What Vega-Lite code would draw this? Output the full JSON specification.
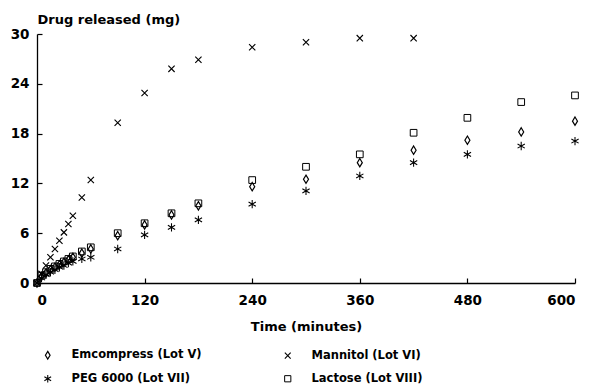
{
  "$schema": "https://vega.github.io/schema/vega-lite/v6.json",
  "width": 538,
  "height": 249,
  "autosize": {"type": "none"},
  "padding": {"left": 37, "top": 34, "right": 15, "bottom": 107},
  "background": "white",
  "config": {
    "view": {"stroke": null},
    "font": "DejaVu Sans",
    "axis": {"grid": false, "domainColor": "black", "tickColor": "black", "labelColor": "black", "titleColor": "black", "labelFont": "DejaVu Sans", "labelFontWeight": "bold", "labelFontSize": 13.5, "titleFont": "DejaVu Sans", "titleFontWeight": "bold", "titleFontSize": 13, "domainWidth": 1.3, "tickWidth": 1.2},
    "legend": {"labelFont": "DejaVu Sans", "labelFontWeight": "bold", "labelFontSize": 11.5, "labelColor": "black"}
  },
  "data": {
    "values": [
      {"series": "Emcompress (Lot V)", "t": 0, "mg": 0},
      {"series": "Emcompress (Lot V)", "t": 5, "mg": 0.8},
      {"series": "Emcompress (Lot V)", "t": 10, "mg": 1.2},
      {"series": "Emcompress (Lot V)", "t": 15, "mg": 1.6},
      {"series": "Emcompress (Lot V)", "t": 20, "mg": 1.9},
      {"series": "Emcompress (Lot V)", "t": 25, "mg": 2.2},
      {"series": "Emcompress (Lot V)", "t": 30, "mg": 2.5},
      {"series": "Emcompress (Lot V)", "t": 35, "mg": 2.8},
      {"series": "Emcompress (Lot V)", "t": 40, "mg": 3.1},
      {"series": "Emcompress (Lot V)", "t": 50, "mg": 3.6},
      {"series": "Emcompress (Lot V)", "t": 60, "mg": 4.1},
      {"series": "Emcompress (Lot V)", "t": 90, "mg": 5.7},
      {"series": "Emcompress (Lot V)", "t": 120, "mg": 7.0},
      {"series": "Emcompress (Lot V)", "t": 150, "mg": 8.2},
      {"series": "Emcompress (Lot V)", "t": 180, "mg": 9.3},
      {"series": "Emcompress (Lot V)", "t": 240, "mg": 11.6},
      {"series": "Emcompress (Lot V)", "t": 300, "mg": 12.5},
      {"series": "Emcompress (Lot V)", "t": 360, "mg": 14.5},
      {"series": "Emcompress (Lot V)", "t": 420, "mg": 16.0},
      {"series": "Emcompress (Lot V)", "t": 480, "mg": 17.2},
      {"series": "Emcompress (Lot V)", "t": 540, "mg": 18.2},
      {"series": "Emcompress (Lot V)", "t": 600, "mg": 19.5},
      {"series": "Mannitol (Lot VI)", "t": 0, "mg": 0},
      {"series": "Mannitol (Lot VI)", "t": 5, "mg": 1.1},
      {"series": "Mannitol (Lot VI)", "t": 10, "mg": 2.1},
      {"series": "Mannitol (Lot VI)", "t": 15, "mg": 3.1},
      {"series": "Mannitol (Lot VI)", "t": 20, "mg": 4.1},
      {"series": "Mannitol (Lot VI)", "t": 25, "mg": 5.1},
      {"series": "Mannitol (Lot VI)", "t": 30, "mg": 6.1},
      {"series": "Mannitol (Lot VI)", "t": 35, "mg": 7.1},
      {"series": "Mannitol (Lot VI)", "t": 40, "mg": 8.1},
      {"series": "Mannitol (Lot VI)", "t": 50, "mg": 10.3},
      {"series": "Mannitol (Lot VI)", "t": 60, "mg": 12.4},
      {"series": "Mannitol (Lot VI)", "t": 90, "mg": 19.3},
      {"series": "Mannitol (Lot VI)", "t": 120, "mg": 22.9},
      {"series": "Mannitol (Lot VI)", "t": 150, "mg": 25.8},
      {"series": "Mannitol (Lot VI)", "t": 180, "mg": 26.9},
      {"series": "Mannitol (Lot VI)", "t": 240, "mg": 28.4},
      {"series": "Mannitol (Lot VI)", "t": 300, "mg": 29.0},
      {"series": "Mannitol (Lot VI)", "t": 360, "mg": 29.5},
      {"series": "Mannitol (Lot VI)", "t": 420, "mg": 29.5},
      {"series": "PEG 6000 (Lot VII)", "t": 0, "mg": 0},
      {"series": "PEG 6000 (Lot VII)", "t": 5, "mg": 0.6},
      {"series": "PEG 6000 (Lot VII)", "t": 10, "mg": 1.0},
      {"series": "PEG 6000 (Lot VII)", "t": 15, "mg": 1.3},
      {"series": "PEG 6000 (Lot VII)", "t": 20, "mg": 1.6},
      {"series": "PEG 6000 (Lot VII)", "t": 25, "mg": 1.9},
      {"series": "PEG 6000 (Lot VII)", "t": 30, "mg": 2.1},
      {"series": "PEG 6000 (Lot VII)", "t": 35, "mg": 2.4},
      {"series": "PEG 6000 (Lot VII)", "t": 40, "mg": 2.6},
      {"series": "PEG 6000 (Lot VII)", "t": 50, "mg": 2.9},
      {"series": "PEG 6000 (Lot VII)", "t": 60, "mg": 3.1},
      {"series": "PEG 6000 (Lot VII)", "t": 90, "mg": 4.1},
      {"series": "PEG 6000 (Lot VII)", "t": 120, "mg": 5.8},
      {"series": "PEG 6000 (Lot VII)", "t": 150, "mg": 6.7},
      {"series": "PEG 6000 (Lot VII)", "t": 180, "mg": 7.6},
      {"series": "PEG 6000 (Lot VII)", "t": 240, "mg": 9.5},
      {"series": "PEG 6000 (Lot VII)", "t": 300, "mg": 11.1},
      {"series": "PEG 6000 (Lot VII)", "t": 360, "mg": 12.9},
      {"series": "PEG 6000 (Lot VII)", "t": 420, "mg": 14.5},
      {"series": "PEG 6000 (Lot VII)", "t": 480, "mg": 15.5},
      {"series": "PEG 6000 (Lot VII)", "t": 540, "mg": 16.5},
      {"series": "PEG 6000 (Lot VII)", "t": 600, "mg": 17.1},
      {"series": "Lactose (Lot VIII)", "t": 0, "mg": 0},
      {"series": "Lactose (Lot VIII)", "t": 5, "mg": 0.9},
      {"series": "Lactose (Lot VIII)", "t": 10, "mg": 1.3},
      {"series": "Lactose (Lot VIII)", "t": 15, "mg": 1.7},
      {"series": "Lactose (Lot VIII)", "t": 20, "mg": 2.0},
      {"series": "Lactose (Lot VIII)", "t": 25, "mg": 2.3},
      {"series": "Lactose (Lot VIII)", "t": 30, "mg": 2.6},
      {"series": "Lactose (Lot VIII)", "t": 35, "mg": 2.9},
      {"series": "Lactose (Lot VIII)", "t": 40, "mg": 3.2},
      {"series": "Lactose (Lot VIII)", "t": 50, "mg": 3.8},
      {"series": "Lactose (Lot VIII)", "t": 60, "mg": 4.3},
      {"series": "Lactose (Lot VIII)", "t": 90, "mg": 6.0},
      {"series": "Lactose (Lot VIII)", "t": 120, "mg": 7.2},
      {"series": "Lactose (Lot VIII)", "t": 150, "mg": 8.4},
      {"series": "Lactose (Lot VIII)", "t": 180, "mg": 9.6},
      {"series": "Lactose (Lot VIII)", "t": 240, "mg": 12.4},
      {"series": "Lactose (Lot VIII)", "t": 300, "mg": 14.0},
      {"series": "Lactose (Lot VIII)", "t": 360, "mg": 15.5},
      {"series": "Lactose (Lot VIII)", "t": 420, "mg": 18.1},
      {"series": "Lactose (Lot VIII)", "t": 480, "mg": 19.9},
      {"series": "Lactose (Lot VIII)", "t": 540, "mg": 21.8},
      {"series": "Lactose (Lot VIII)", "t": 600, "mg": 22.6}
    ]
  },
  "mark": {"type": "point", "filled": false, "stroke": "black", "size": 70, "opacity": 1},
  "encoding": {
    "x": {
      "field": "t", "type": "quantitative",
      "scale": {"domain": [0, 600], "nice": false, "zero": true},
      "axis": {"values": [0, 120, 240, 360, 480, 600], "tickSize": -5, "labelPadding": 15, "title": "Time (minutes)", "titleY": 47, "titleBaseline": "alphabetic"}
    },
    "y": {
      "field": "mg", "type": "quantitative",
      "scale": {"domain": [0, 30], "nice": false},
      "axis": {"values": [0, 6, 12, 18, 24, 30], "tickSize": -5, "labelPadding": 13, "title": "Drug released (mg)", "titleAngle": 0, "titleX": 0, "titleY": -11, "titleAlign": "left", "titleBaseline": "alphabetic"}
    },
    "shape": {
      "field": "series", "type": "nominal",
      "scale": {
        "domain": ["Emcompress (Lot V)", "Mannitol (Lot VI)", "PEG 6000 (Lot VII)", "Lactose (Lot VIII)"],
        "range": ["M0,-1L0.6,0L0,1L-0.6,0Z", "M-0.75,-0.75L0.75,0.75M-0.75,0.75L0.75,-0.75", "M0,-1L0,1M-0.87,-0.5L0.87,0.5M-0.87,0.5L0.87,-0.5", "M-0.8,-0.8L0.8,-0.8L0.8,0.8L-0.8,0.8Z"]
      },
      "legend": {"title": null, "orient": "none", "direction": "horizontal", "legendX": 5, "legendY": 315, "columns": 2, "columnPadding": 80, "rowPadding": 10, "labelOffset": 18, "symbolSize": 60, "symbolStrokeColor": "black"}
    },
    "strokeWidth": {
      "field": "series", "type": "nominal",
      "scale": {
        "domain": ["Emcompress (Lot V)", "Mannitol (Lot VI)", "PEG 6000 (Lot VII)", "Lactose (Lot VIII)"],
        "range": [1.2, 1.0, 1.9, 1.4]
      },
      "legend": null
    }
  }
}
